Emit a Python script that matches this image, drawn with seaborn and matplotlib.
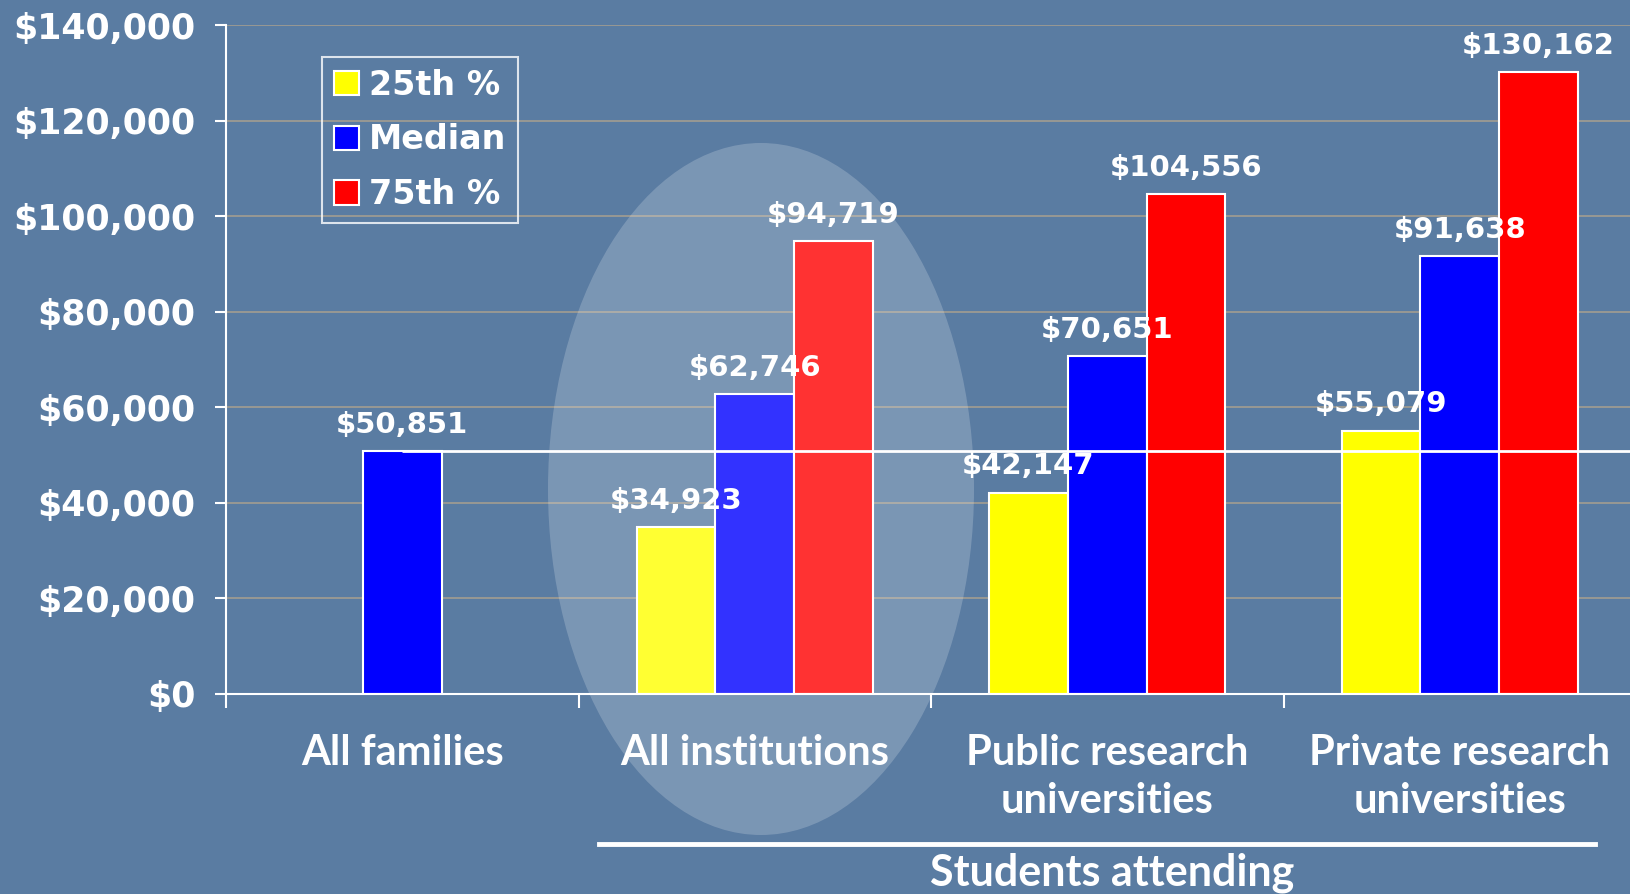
import numpy as np
import pandas as pd
import matplotlib.pyplot as plt
import seaborn as sns
from matplotlib.patches import Ellipse
from matplotlib.lines import Line2D

# values
categories = ["All families", "All institutions",
              "Public research\nuniversities", "Private research\nuniversities"]
stats = ["25th %", "Median", "75th %"]
p25 = [np.nan, 34923, 42147, 55079]
median = [50851, 62746, 70651, 91638]
p75 = [np.nan, 94719, 104556, 130162]
colors = ["#ffff00", "#0000ff", "#ff0000"]
yticks = list(range(0, 140001, 20000))

rows = []
for stat, vals in zip(stats, [p25, median, p75]):
    for cat, v in zip(categories, vals):
        rows.append({"group": cat, "stat": stat, "income": v})
df = pd.DataFrame(rows).dropna()

bg = "#5a7ca2"
fig = plt.figure(figsize=(16.31, 8.94), dpi=100, facecolor=bg)
ax = fig.add_axes([226 / 1631, 1 - 694 / 894, 1410 / 1631, 669 / 894])
ax.set_facecolor("none")

sns.barplot(data=df, x="group", y="income", hue="stat", order=categories,
            hue_order=stats, palette=colors, width=0.67, errorbar=None,
            edgecolor="white", linewidth=1.5, saturation=1, ax=ax)

for cont in ax.containers:
    ax.bar_label(cont, fmt="${:,.0f}", padding=9, color="white",
                 fontsize=21, fontweight="bold")

# median of all families drawn across the chart
ax.hlines(median[0], 0, 3.5, colors="white", lw=2, zorder=4)

ax.set_ylim(0, 140000)
ax.set_xlim(-0.5, 3.5)
ax.set_yticks(yticks)
ax.set_yticklabels([f"${v:,}" for v in yticks], color="white",
                   fontsize=25, fontweight="bold")
ax.tick_params(axis="y", colors="white", length=8, width=1.5, pad=14)
ax.set_xticks(range(4))
ax.set_xticklabels(categories, color="white", fontsize=30,
                   fontweight="bold", family="Lato", linespacing=1.3)
ax.tick_params(axis="x", which="major", length=0, pad=29)
ax.set_xticks([-0.5, 0.5, 1.5, 2.5], minor=True)
ax.tick_params(axis="x", which="minor", colors="white", length=10, width=1.5)
ax.set_xlabel("")
ax.set_ylabel("")
ax.yaxis.grid(True, color="#a39d90", lw=1.2)
ax.set_axisbelow(True)
for s in ["top", "right"]:
    ax.spines[s].set_visible(False)
for s in ["left", "bottom"]:
    ax.spines[s].set_color("white")
    ax.spines[s].set_linewidth(1.5)

handles, labels = ax.get_legend_handles_labels()
leg = ax.legend(handles, labels, loc="upper left", bbox_to_anchor=(0.068, 0.952),
                borderaxespad=0, frameon=True, fancybox=False, edgecolor="white",
                facecolor="none", handlelength=0.75, handleheight=0.75,
                handletextpad=0.3, labelspacing=0.65, borderpad=0.35,
                prop={"size": 24, "weight": "bold"})
leg.get_frame().set_linewidth(1.5)
for t in leg.get_texts():
    t.set_color("white")

# highlight oval over "All institutions"
ell = Ellipse((761 / 1631, 1 - 489 / 894), 426 / 1631, 692 / 894,
              transform=fig.transFigure, facecolor="white", alpha=0.2,
              edgecolor="none", zorder=5)
fig.add_artist(ell)

fig.add_artist(Line2D([599 / 1631, 1595 / 1631], [1 - 844 / 894] * 2,
                      color="white", lw=3.5))
fig.text(1112 / 1631, 1 - 873 / 894, "Students attending", ha="center",
         va="center", color="white", fontsize=31, fontweight="bold", family="Lato")

fig.savefig("out.png", dpi=100, facecolor=bg)
